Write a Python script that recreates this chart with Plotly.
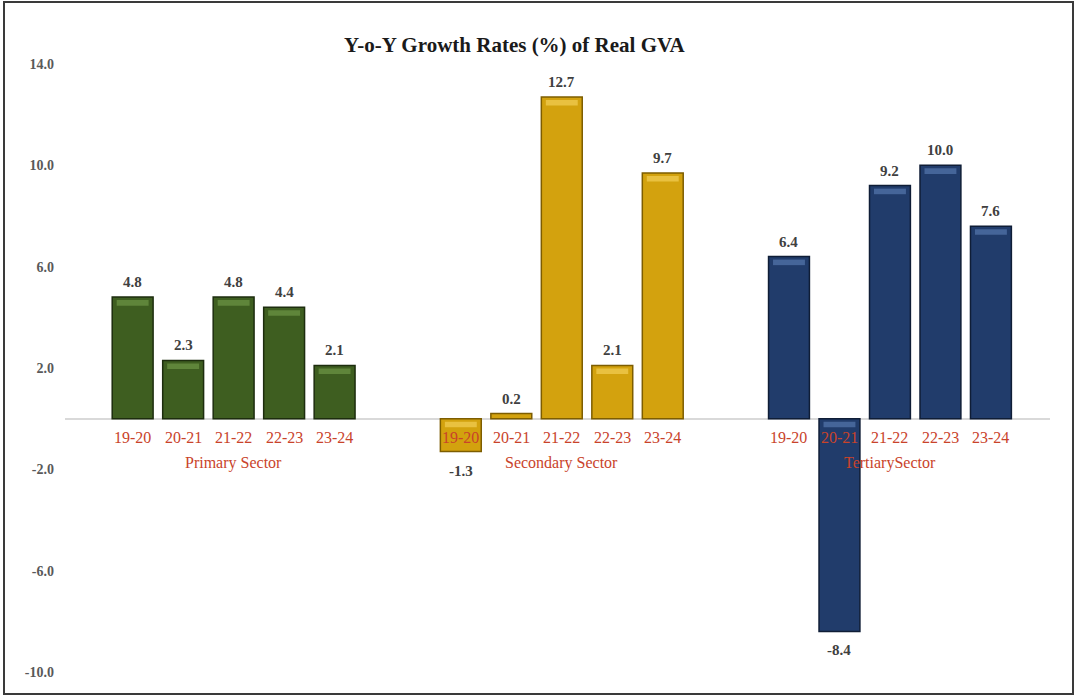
import plotly.graph_objects as go

# Year-on-year growth of real GVA by sector (%)
years = ["19-20", "20-21", "21-22", "22-23", "23-24"]
sectors = ["Primary Sector", "Secondary Sector", "TertiarySector"]
primary = [4.8, 2.3, 4.8, 4.4, 2.1]
secondary = [-1.3, 0.2, 12.7, 2.1, 9.7]
tertiary = [6.4, -8.4, 9.2, 10.0, 7.6]
y_ticks = [14, 10, 6, 2, -2, -6, -10]

series = [primary, secondary, tertiary]
body = ["#3e5e20", "#d3a20e", "#213c6b"]
edge = ["#1d2d0e", "#7d5d00", "#0f1d36"]
shine = ["#6d9646", "#f2cf55", "#5576ad"]

GROUP_STEP = 6.5  # five bars plus a gap of one and a half slots
BAR_W = 0.81

W, H = 1076, 696
ML, MR, MT, MB = 65, 26, 64, 24
SERIF = "Liberation Serif"
LABEL_RED = "#c9432a"

fig = go.Figure()

for g, vals in enumerate(series):
    xs = [g * GROUP_STEP + i for i in range(len(vals))]
    fig.add_trace(go.Bar(
        x=xs, y=vals, width=BAR_W,
        marker=dict(color=body[g], line=dict(color=edge[g], width=1.5)),
        hoverinfo="skip", showlegend=False,
    ))
    # bevel highlight band along the top face of each bar
    hx, hy, hb = [], [], []
    for x, v in zip(xs, vals):
        if abs(v) >= 0.6:
            top = max(v, 0)
            hx.append(x)
            hb.append(top - 0.34)
            hy.append(0.22)
    fig.add_trace(go.Bar(
        x=hx, y=hy, base=hb, width=BAR_W * 0.78,
        marker=dict(color=shine[g], opacity=0.7, line=dict(width=0)),
        hoverinfo="skip", showlegend=False,
    ))

    for x, v in zip(xs, vals):
        # value label just beyond the end of the bar
        fig.add_annotation(x=x, y=v, xref="x", yref="y", text=f"{v:.1f}",
                           showarrow=False, yshift=15 if v >= 0 else -19,
                           font=dict(family=SERIF, size=15, color="#404040",
                                     weight="bold"))
    # category labels on the zero line
    for x, yr in zip(xs, years):
        fig.add_annotation(x=x, y=0, xref="x", yref="y", text=yr,
                           showarrow=False, yshift=-19,
                           font=dict(family=SERIF, size=16, color=LABEL_RED))
    fig.add_annotation(x=xs[2], y=0, xref="x", yref="y", text=sectors[g],
                       showarrow=False, yshift=-44,
                       font=dict(family=SERIF, size=16, color=LABEL_RED))

# frame around the whole chart
pw, ph = W - ML - MR, H - MT - MB
fig.add_shape(type="rect", xref="paper", yref="paper",
              x0=(4 - ML) / pw, x1=(1073 - ML) / pw,
              y0=(H - MB - 694) / ph, y1=(H - MB - 2) / ph,
              line=dict(color="#3a3a3a", width=2), layer="above")

fig.update_layout(
    width=W, height=H,
    margin=dict(l=ML, r=MR, t=MT, b=MB),
    paper_bgcolor="white", plot_bgcolor="white",
    barmode="overlay",
    title=dict(text="Y-o-Y Growth Rates (%) of Real GVA",
               x=0.478, xanchor="center", y=1 - 45 / H, yanchor="middle",
               font=dict(family=SERIF, size=21, color="#1a1a1a", weight="bold")),
    xaxis=dict(range=[-1.34, 18.17], showticklabels=False, showgrid=False,
               zeroline=False, showline=False, ticks=""),
    yaxis=dict(range=[-10, 14], tickvals=y_ticks,
               ticktext=[f"{v:.1f}" for v in y_ticks],
               showgrid=False, showline=False, ticks="",
               zeroline=True, zerolinecolor="#d9d9d9", zerolinewidth=2,
               layer="below traces", ticklabelstandoff=10,
               tickfont=dict(family=SERIF, size=14, color="#595959", weight="bold")),
)

fig.write_html("out.html")
